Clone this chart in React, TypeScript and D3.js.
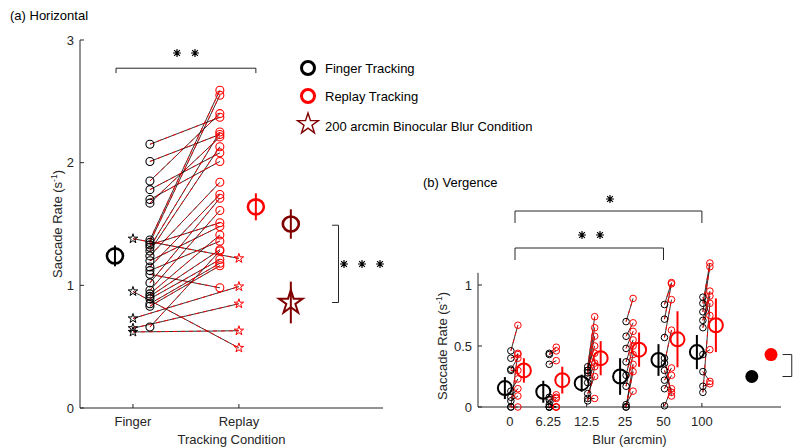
import * as d3 from 'd3';

// (a) Horizontal: paired rates per subject
const conditions = ['Finger', 'Replay'];
const fingerCircles = [2.15, 2.01, 1.85, 1.78, 1.7, 1.67, 1.37, 1.35, 1.33, 1.31, 1.28, 1.24, 1.2, 1.15, 1.12, 1.09, 1.02, 0.96, 0.93, 0.91, 0.89, 0.85, 0.83, 0.66];
const replayCircles = [2.37, 2.23, 2.4, 2.08, 2.01, 2.21, 2.59, 2.55, 1.51, 2.25, 2.13, 1.84, 1.48, 1.74, 1.36, 0.98, 1.71, 1.61, 1.41, 1.29, 1.21, 1.18, 1.16, 1.28];
const fingerStars = [1.38, 0.95, 0.73, 0.65, 0.62];
const replayStars = [1.22, 0.49, 0.99, 0.85, 0.63];
const leftMeans = [1.24, 1.64, 1.5, 0.86]; // finger, replay, blur-circle, blur-star
const leftErrs = [0.085, 0.11, 0.12, 0.17];

// (b) Vergence
const blurLevels = ['0', '6.25', '12.5', '25', '50', '100'];
const vergBlack = [
  [0.46, 0.4, 0.31, 0.3, 0.13, 0.08, 0.05, 0.0, 0.0],
  [0.44, 0.35, 0.43, 0.08, 0.06, 0.0, 0.0, 0.0, 0.02],
  [0.33, 0.3, 0.28, 0.25, 0.2, 0.11, 0.07, 0.05, 0.3],
  [0.7, 0.58, 0.48, 0.37, 0.26, 0.17, 0.0, 0.0, 0.02],
  [0.84, 0.72, 0.57, 0.36, 0.22, 0.15, 0.01, 0.3, 0.4],
  [0.85, 0.78, 0.71, 0.65, 0.43, 0.29, 0.17, 0.12, 0.9],
];
const vergRed = [
  [0.67, 0.43, 0.4, 0.3, 0.23, 0.15, 0.09, 0.0, 0.44],
  [0.49, 0.38, 0.46, 0.1, 0.08, 0.0, 0.07, 0.0, 0.0],
  [0.74, 0.65, 0.58, 0.44, 0.36, 0.25, 0.07, 0.33, 0.5],
  [0.89, 0.69, 0.62, 0.55, 0.5, 0.43, 0.35, 0.29, 0.13],
  [1.02, 1.01, 0.88, 0.63, 0.32, 0.26, 0.15, 0.12, 0.09],
  [1.18, 1.15, 0.95, 0.91, 0.47, 0.21, 0.19, 0.85, 0.75],
];
const vergBlackMean = [0.155, 0.125, 0.195, 0.25, 0.385, 0.45];
const vergBlackErr = [0.09, 0.09, 0.07, 0.15, 0.13, 0.14];
const vergRedMean = [0.3, 0.22, 0.4, 0.47, 0.555, 0.67];
const vergRedErr = [0.1, 0.11, 0.14, 0.14, 0.23, 0.22];
const binocMean = [0.25, 0.43];
const binocErr = [0.02, 0.04];

const AX = '#262626';
const DR = '#800000';
const FONT = 'Liberation Sans, Arial, sans-serif';
const FS = 13;

function starPath(cx: number, cy: number, r: number) {
  const pts: string[] = [];
  for (let i = 0; i < 10; i++) {
    const rr = i % 2 === 0 ? r : r * 0.382;
    const a = -Math.PI / 2 + (i * Math.PI) / 5;
    pts.push(`${cx + rr * Math.cos(a)},${cy + rr * Math.sin(a)}`);
  }
  return 'M' + pts.join('L') + 'Z';
}

function Asterisk({ x, y, s = 4 }: { x: number; y: number; s?: number }) {
  const d = s * 0.72;
  return (
    <path
      d={`M${x - s},${y}H${x + s}M${x},${y - s}V${y + s}M${x - d},${y - d}L${x + d},${y + d}M${x - d},${y + d}L${x + d},${y - d}`}
      stroke="#000"
      strokeWidth={1.2}
    />
  );
}

function PairLine({ x1, y1, x2, y2 }: { x1: number; y1: number; x2: number; y2: number }) {
  return (
    <g>
      <line x1={x1} y1={y1} x2={x2} y2={y2} stroke="#000" strokeWidth={0.8} />
      <line x1={x1} y1={y1} x2={x2} y2={y2} stroke="#f00" strokeWidth={0.9} strokeDasharray="4,4" />
    </g>
  );
}

function YLabel({ x, y }: { x: number; y: number }) {
  return (
    <text transform={`translate(${x},${y}) rotate(-90)`} textAnchor="middle" fontSize={FS} fill={AX} fontFamily={FONT}>
      Saccade Rate (s
      <tspan fontSize={8.5} dy={-5}>-1</tspan>
      <tspan dy={5}>)</tspan>
    </text>
  );
}

export default function App() {
  // left panel scales
  const xL = d3.scaleLinear().domain([0.5, 3.36]).range([80, 383]);
  const yL = d3.scaleLinear().domain([0, 3]).range([408, 40]);
  // right panel scales
  const xR = d3.scaleLinear().domain([0.17, 8.06]).range([478, 781]);
  const yR = d3.scaleLinear().domain([0, 1.1]).range([407, 272.8]);
  const bx = (i: number) => xR(i + 1);

  return (
    <svg width={808} height={448} style={{ position: 'absolute', left: 0, top: 0, background: '#fff' }} fontFamily={FONT}>
      {/* ---------- (a) Horizontal ---------- */}
      <text x={10} y={20} fontSize={FS} fill="#000">(a) Horizontal</text>

      {/* axes */}
      <line x1={xL(0.5)} x2={xL(0.5)} y1={yL(3)} y2={yL(0)} stroke={AX} strokeWidth={1} />
      <line x1={xL(0.5)} x2={xL(3.36)} y1={yL(0)} y2={yL(0)} stroke={AX} strokeWidth={1} />
      {yL.ticks(3).map((t) => (
        <g key={t}>
          <line x1={xL(0.5)} x2={xL(0.5) + 4} y1={yL(t)} y2={yL(t)} stroke={AX} />
          <text x={xL(0.5) - 6} y={yL(t) + 4.5} textAnchor="end" fontSize={FS} fill={AX}>{t}</text>
        </g>
      ))}
      {conditions.map((c, i) => (
        <g key={c}>
          <line x1={xL(i + 1)} x2={xL(i + 1)} y1={yL(0)} y2={yL(0) - 4} stroke={AX} />
          <text x={xL(i + 1)} y={yL(0) + 18} textAnchor="middle" fontSize={FS} fill={AX}>{c}</text>
        </g>
      ))}
      <text x={(xL(0.5) + xL(3.36)) / 2} y={444} textAnchor="middle" fontSize={FS} fill={AX}>Tracking Condition</text>
      <YLabel x={62} y={yL(1.5)} />

      {/* paired lines */}
      {fingerCircles.map((v, i) => (
        <PairLine key={'pc' + i} x1={xL(1.16)} y1={yL(v)} x2={xL(1.82)} y2={yL(replayCircles[i])} />
      ))}
      {fingerStars.map((v, i) => (
        <PairLine key={'ps' + i} x1={xL(1)} y1={yL(v)} x2={xL(2)} y2={yL(replayStars[i])} />
      ))}
      {fingerCircles.map((v, i) => (
        <circle key={'fc' + i} cx={xL(1.16)} cy={yL(v)} r={4} fill="none" stroke="#000" strokeWidth={1.1} />
      ))}
      {replayCircles.map((v, i) => (
        <circle key={'rc' + i} cx={xL(1.82)} cy={yL(v)} r={4} fill="none" stroke="#f00" strokeWidth={1.1} />
      ))}
      {fingerStars.map((v, i) => (
        <path key={'fs' + i} d={starPath(xL(1), yL(v), 5)} fill="none" stroke="#000" strokeWidth={1} />
      ))}
      {replayStars.map((v, i) => (
        <path key={'rs' + i} d={starPath(xL(2), yL(v), 5)} fill="none" stroke="#f00" strokeWidth={1} />
      ))}

      {/* means */}
      {[
        { x: 0.83, c: '#000', star: false },
        { x: 2.16, c: '#f00', star: false },
        { x: 2.49, c: DR, star: false },
        { x: 2.49, c: DR, star: true },
      ].map((m, i) => (
        <g key={'lm' + i}>
          <line
            x1={xL(m.x)} x2={xL(m.x)}
            y1={yL(leftMeans[i] + leftErrs[i])} y2={yL(leftMeans[i] - leftErrs[i])}
            stroke={m.c} strokeWidth={2}
          />
          {m.star ? (
            <path d={starPath(xL(m.x), yL(leftMeans[i]), 12.5)} fill="none" stroke={m.c} strokeWidth={2} />
          ) : (
            <ellipse cx={xL(m.x)} cy={yL(leftMeans[i])} rx={8} ry={7.5} fill="none" stroke={m.c} strokeWidth={2.6} />
          )}
        </g>
      ))}

      {/* significance */}
      <path d={`M${xL(0.84)},${yL(2.73)}V${yL(2.77)}H${xL(2.16)}V${yL(2.73)}`} fill="none" stroke={AX} strokeWidth={1} />
      <Asterisk x={177} y={53} />
      <Asterisk x={195} y={53} />
      <path d={`M${xL(2.88)},${yL(1.49)}H${xL(2.94)}V${yL(0.86)}H${xL(2.88)}`} fill="none" stroke={AX} strokeWidth={1} />
      <Asterisk x={344} y={264} />
      <Asterisk x={362} y={264} />
      <Asterisk x={380} y={264} />

      {/* legend */}
      <circle cx={308} cy={68} r={6.5} fill="none" stroke="#000" strokeWidth={3} />
      <text x={325} y={72.5} fontSize={FS} fill="#000">Finger Tracking</text>
      <circle cx={308} cy={96} r={6.5} fill="none" stroke="#f00" strokeWidth={3} />
      <text x={325} y={100.5} fontSize={FS} fill="#000">Replay Tracking</text>
      <path d={starPath(308, 124, 11)} fill="none" stroke={DR} strokeWidth={1.4} />
      <text x={325} y={131} fontSize={FS} fill="#000">200 arcmin Binocular Blur Condition</text>

      {/* ---------- (b) Vergence ---------- */}
      <text x={423} y={187} fontSize={FS} fill="#000">(b) Vergence</text>

      <line x1={xR(0.17)} x2={xR(0.17)} y1={yR(1.1)} y2={yR(0)} stroke={AX} />
      <line x1={xR(0.17)} x2={xR(8.06)} y1={yR(0)} y2={yR(0)} stroke={AX} />
      {[0, 0.5, 1].map((t) => (
        <g key={t}>
          <line x1={xR(0.17)} x2={xR(0.17) + 4} y1={yR(t)} y2={yR(t)} stroke={AX} />
          <text x={xR(0.17) - 6} y={yR(t) + 4.5} textAnchor="end" fontSize={FS} fill={AX}>{t}</text>
        </g>
      ))}
      {blurLevels.map((b, i) => (
        <g key={b}>
          <line x1={bx(i)} x2={bx(i)} y1={yR(0)} y2={yR(0) - 4} stroke={AX} />
          <text x={bx(i)} y={yR(0) + 19} textAnchor="middle" fontSize={FS} fill={AX}>{b}</text>
        </g>
      ))}
      <text x={(xR(0.17) + xR(8.06)) / 2} y={444} textAnchor="middle" fontSize={FS} fill={AX}>Blur (arcmin)</text>
      <YLabel x={447} y={yR(0.5)} />

      {vergBlack.map((grp, i) => (
        <g key={'vg' + i}>
          {grp.map((v, j) => (
            <PairLine key={j} x1={bx(i) + 1} y1={yR(v)} x2={bx(i) + 8} y2={yR(vergRed[i][j])} />
          ))}
          {grp.map((v, j) => (
            <circle key={'b' + j} cx={bx(i) + 1} cy={yR(v)} r={3.3} fill="none" stroke="#000" strokeWidth={1} />
          ))}
          {vergRed[i].map((v, j) => (
            <circle key={'r' + j} cx={bx(i) + 8} cy={yR(v)} r={3.3} fill="none" stroke="#f00" strokeWidth={1} />
          ))}
          <line x1={bx(i) - 5} x2={bx(i) - 5} y1={yR(vergBlackMean[i] + vergBlackErr[i])} y2={yR(vergBlackMean[i] - vergBlackErr[i])} stroke="#000" strokeWidth={2} />
          <circle cx={bx(i) - 5} cy={yR(vergBlackMean[i])} r={7} fill="none" stroke="#000" strokeWidth={2} />
          <line x1={bx(i) + 14} x2={bx(i) + 14} y1={yR(vergRedMean[i] + vergRedErr[i])} y2={yR(vergRedMean[i] - vergRedErr[i])} stroke="#f00" strokeWidth={2} />
          <circle cx={bx(i) + 14} cy={yR(vergRedMean[i])} r={7} fill="none" stroke="#f00" strokeWidth={2} />
        </g>
      ))}

      {/* binocular blur condition */}
      {binocMean.map((m, i) => {
        const cx = xR(i === 0 ? 7.3 : 7.8);
        const c = i === 0 ? '#000' : '#f00';
        return (
          <g key={'bm' + i}>
            <line x1={cx} x2={cx} y1={yR(m + binocErr[i])} y2={yR(m - binocErr[i])} stroke={c} strokeWidth={2} />
            <circle cx={cx} cy={yR(m)} r={6.5} fill={c} />
          </g>
        );
      })}
      <path d={`M${xR(8.1)},${yR(0.43)}H${xR(8.34)}V${yR(0.25)}H${xR(8.1)}`} fill="none" stroke={AX} />

      {/* vergence significance */}
      <path d={`M515,223V211H${bx(5)}V223`} fill="none" stroke={AX} />
      <Asterisk x={610} y={199} />
      <path d={`M515,260V248H${bx(4)}V260`} fill="none" stroke={AX} />
      <Asterisk x={582} y={235} />
      <Asterisk x={600} y={235} />
    </svg>
  );
}
